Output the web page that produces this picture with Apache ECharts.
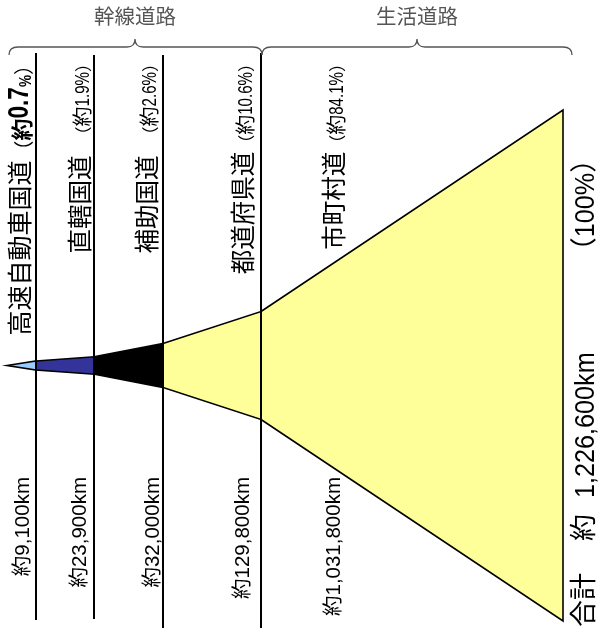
<!DOCTYPE html>
<html><head><meta charset="utf-8">
<script src="https://cdn.jsdelivr.net/npm/echarts@6/dist/echarts.min.js"></script>
<style>html,body{margin:0;padding:0;background:#fff}#c{width:599px;height:628px}</style>
</head><body><div id="c"></div>
<script>
// ---- data ----
const categories = ['高速自動車国道', '直轄国道', '補助国道', '都道府県道', '市町村道'];
const lengthsKm = [9100, 23900, 32000, 129800, 1031800];
const shares = ['0.7', '1.9', '2.6', '10.6', '84.1'];
const totalKm = 1226600;
const totalShare = '100';
const groupNames = ['幹線道路', '生活道路'];

// ---- schematic layout (axis units) ----
const edgeX = [7, 36, 94, 163, 261, 563];
const edgeHalf = [0, 4.5, 8.7, 22, 54, 255.5];
const axisY = 365.5;
const sepTop = [53, 55, 55, 53];
const sepBottom = [620, 619, 628, 628];
const topLabelBase = [35, 94, 161, 257, 348];
const topLabelEndY = 55;
const labelGap = [0, 12, 12, 0, 0];
const bottomLabelX = [23, 80, 153, 243, 334];
const bottomLabelTopY = 477;
const braces = [[9, 135, 262], [262, 417, 572]];
const braceY = { end: 55, bar: 47, tip: 39 };
const groupLabelY = 18;
const totalX = 586, totalStartY = 627;

const sectionColors = ['#99CCFF', '#333399', '#000000', '#FFFF99', '#FFFF99'];
const FONT = '"Liberation Sans", "Noto Sans CJK JP", sans-serif';

const fmt = n => n.toLocaleString('en-US');

// text measuring for laying out rotated runs of differently sized pieces
const mctx = document.createElement('canvas').getContext('2d');
function measure(p) {
  mctx.font = (p.weight || 'normal') + ' ' + p.size + 'px ' + FONT;
  return mctx.measureText(p.text).width * (p.sx || 1);
}
function textEl(p, x, y, align, vAlign) {
  return { type: 'text', x: x, y: y, rotation: Math.PI / 2, scaleX: p.sx || 1,
    style: { text: p.text, fontSize: p.size, fontWeight: p.weight || 'normal', fontFamily: FONT,
      fill: '#000', align: align, verticalAlign: vAlign } };
}
// pieces laid out bottom-to-top, rotated 90deg CCW; anchored at the top end
function runFromTop(baseX, yEnd, pieces, vAlign) {
  const out = [];
  let y = yEnd;
  for (let k = pieces.length - 1; k >= 0; k--) {
    const p = pieces[k];
    if ('gap' in p) { y += p.gap; continue; }
    out.push(textEl(p, baseX, y, 'right', vAlign));
    y += measure(p);
  }
  return out;
}
function runFromBottom(baseX, yStart, pieces, vAlign) {
  const out = [];
  let y = yStart;
  pieces.forEach(p => {
    if ('gap' in p) { y -= p.gap; return; }
    out.push(textEl(p, baseX, y, 'left', vAlign));
    y -= measure(p);
  });
  return out;
}

const chart = echarts.init(document.getElementById('c'));
const idx = categories.map((c, i) => i);

chart.setOption({
  animation: false,
  grid: { left: 0, top: 0, width: 599, height: 628 },
  xAxis: { type: 'value', min: 0, max: 599, show: false },
  yAxis: { type: 'value', min: 0, max: 628, inverse: true, show: false },
  series: [
    { // funnel sections
      type: 'custom', silent: true, data: idx,
      renderItem: (params, api) => {
        const i = api.value(0);
        const pts = [
          api.coord([edgeX[i], axisY - edgeHalf[i]]),
          api.coord([edgeX[i + 1], axisY - edgeHalf[i + 1]]),
          api.coord([edgeX[i + 1], axisY + edgeHalf[i + 1]]),
          api.coord([edgeX[i], axisY + edgeHalf[i]])
        ];
        return { type: 'polygon', shape: { points: pts },
          style: { fill: sectionColors[i], stroke: '#000', lineWidth: 1.6, lineJoin: 'miter' } };
      }
    },
    { // separator lines
      type: 'custom', silent: true, data: sepTop.map((v, i) => i),
      renderItem: (params, api) => {
        const i = api.value(0);
        const a = api.coord([edgeX[i + 1], sepTop[i]]);
        const b = api.coord([edgeX[i + 1], sepBottom[i]]);
        return { type: 'line', shape: { x1: a[0], y1: a[1], x2: b[0], y2: b[1] },
          style: { stroke: '#000', lineWidth: 2 } };
      }
    },
    { // braces
      type: 'custom', silent: true, data: braces.map((b, i) => i),
      renderItem: (params, api) => {
        const [x1, xm, x2] = braces[api.value(0)];
        const P = (x, y) => api.coord([x, y]).join(',');
        const d = 'M' + P(x1, braceY.end) + ' Q' + P(x1, braceY.bar) + ' ' + P(x1 + 9, braceY.bar) +
          ' L' + P(xm - 8, braceY.bar) + ' Q' + P(xm, braceY.bar) + ' ' + P(xm, braceY.tip) +
          ' Q' + P(xm, braceY.bar) + ' ' + P(xm + 8, braceY.bar) +
          ' L' + P(x2 - 9, braceY.bar) + ' Q' + P(x2, braceY.bar) + ' ' + P(x2, braceY.end);
        return { type: 'path', shape: { pathData: d },
          style: { fill: null, stroke: '#555', lineWidth: 1.3 } };
      }
    },
    { // group labels
      type: 'custom', silent: true, data: groupNames.map((g, i) => i),
      renderItem: (params, api) => {
        const i = api.value(0);
        const p = api.coord([braces[i][1], groupLabelY]);
        return { type: 'text', x: p[0], y: p[1],
          style: { text: groupNames[i], fontSize: 20.5, fontFamily: FONT, fill: '#555',
            align: 'center', verticalAlign: 'middle' } };
      }
    },
    { // category + share labels
      type: 'custom', silent: true, data: idx,
      renderItem: (params, api) => {
        const i = api.value(0);
        const p = api.coord([topLabelBase[i], topLabelEndY]);
        let pieces;
        if (i === 0) {
          pieces = [
            { text: categories[i], size: 25 },
            { text: '（', size: 20 },
            { text: '約', size: 22, weight: 'bold' },
            { text: shares[i], size: 29, weight: 'bold', sx: 0.78 },
            { text: '%', size: 17, weight: 'bold', sx: 0.8 },
            { text: '）', size: 20 }
          ];
        } else {
          pieces = [
            { text: categories[i], size: 24.5 },
            { gap: labelGap[i] },
            { text: '（', size: 17 },
            { text: '約', size: 20 },
            { text: shares[i] + '%', size: 21, sx: 0.72 },
            { text: '）', size: 17 }
          ];
        }
        return { type: 'group', children: runFromTop(p[0], p[1], pieces, 'bottom') };
      }
    },
    { // length labels
      type: 'custom', silent: true, data: idx,
      renderItem: (params, api) => {
        const i = api.value(0);
        const p = api.coord([bottomLabelX[i], bottomLabelTopY]);
        return { type: 'text', x: p[0], y: p[1], rotation: Math.PI / 2,
          style: { text: '約' + fmt(lengthsKm[i]) + 'km', fontSize: 20.5, fontFamily: FONT, fill: '#000',
            align: 'right', verticalAlign: 'middle' } };
      }
    },
    { // total label
      type: 'custom', silent: true, data: [0],
      renderItem: (params, api) => {
        const p = api.coord([totalX, totalStartY]);
        const pieces = [
          { text: '合計', size: 27 },
          { gap: 32 },
          { text: '約', size: 27 },
          { gap: 16 },
          { text: fmt(totalKm) + 'km', size: 28, sx: 0.9 },
          { gap: 88 },
          { text: '（', size: 27 },
          { text: totalShare + '%', size: 28, sx: 0.9 },
          { text: '）', size: 27 }
        ];
        return { type: 'group', children: runFromBottom(p[0], p[1], pieces, 'middle') };
      }
    }
  ]
});
</script>
</body></html>
